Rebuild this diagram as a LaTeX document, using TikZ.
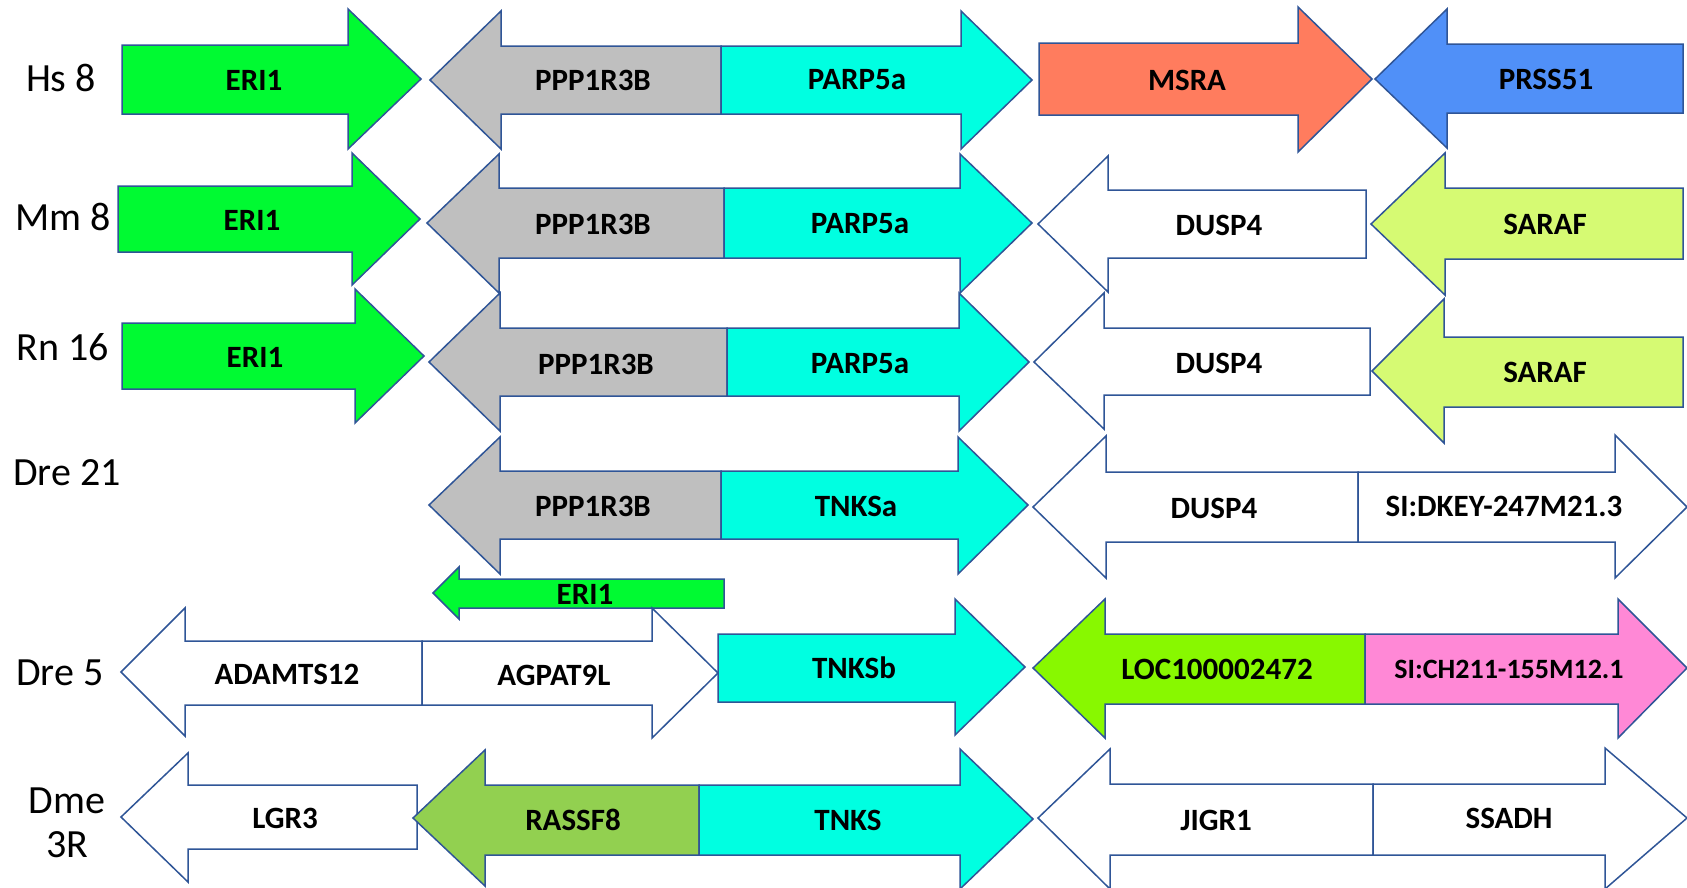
\documentclass[tikz,border=0pt]{standalone}
\usepackage{fontspec}
\setmainfont{Carlito}
\usepackage{tikz}

\definecolor{edgeblue}{RGB}{47,85,151}
\definecolor{eriGreen}{RGB}{0,250,50}
\definecolor{ppGray}{RGB}{191,191,191}
\definecolor{tnksCyan}{RGB}{0,255,225}
\definecolor{msraRed}{RGB}{255,124,94}
\definecolor{prssBlue}{RGB}{80,144,248}
\definecolor{sarafLime}{RGB}{214,250,115}
\definecolor{locGreen}{RGB}{136,248,0}
\definecolor{siPink}{RGB}{255,136,214}
\definecolor{rassGreen}{RGB}{146,208,80}

\begin{document}
\begin{tikzpicture}[x=1pt, y=-1pt,
  gene/.style={draw=edgeblue, line width=1.5pt, line join=miter},
  gname/.style={font=\bfseries\fontsize{31}{31}\selectfont, inner sep=0pt},
  chrom/.style={font=\fontsize{40}{44}\selectfont, inner sep=0pt, align=center}]
\useasboundingbox (0,0) rectangle (1687,887);

% Chromosome labels
\node[chrom] (hs) at (61,78) {Hs 8};
\node[chrom] (mm) at (63,217) {Mm 8};
\node[chrom] (rn) at (63,347) {Rn 16};
\node[chrom] (dreA) at (67,473) {Dre 21};
\node[chrom] (dreB) at (60,673) {Dre 5};
\node[chrom] (dme) at (67,823) {Dme\\3R};

% Hs 8
\draw[gene, fill=eriGreen] (122,45) -- (348,45) -- (348,9) -- (421,79) -- (348,149) -- (348,114) -- (122,114) -- cycle;
\draw[gene, fill=ppGray] (430,80) -- (501,11) -- (501,46) -- (721,46) -- (721,114) -- (501,114) -- (501,149) -- cycle;
\draw[gene, fill=tnksCyan] (721,46) -- (961,46) -- (961,11) -- (1032,80) -- (961,149) -- (961,114) -- (721,114) -- cycle;
\draw[gene, fill=msraRed] (1039,43) -- (1298,43) -- (1298,7) -- (1372,79) -- (1298,152) -- (1298,115) -- (1039,115) -- cycle;
\draw[gene, fill=prssBlue] (1375,79) -- (1447,9) -- (1447,44) -- (1683,44) -- (1683,113) -- (1447,113) -- (1447,148) -- cycle;
\node[gname] (hsERI) at (254,80) {ERI1};
\node[gname] (hsPPP) at (593,80) {PPP1R3B};
\node[gname] (hsPARP) at (857,80) {PARP5a};
\node[gname] (hsMSRA) at (1187,80) {MSRA};
\node[gname] (hsPRSS) at (1546,79) {PRSS51};

% Mm 8
\draw[gene, fill=eriGreen] (118,186) -- (352,186) -- (352,153) -- (420,219) -- (352,285) -- (352,252) -- (118,252) -- cycle;
\draw[gene, fill=ppGray] (427,223) -- (499,154) -- (499,188) -- (724,188) -- (724,258) -- (499,258) -- (499,293) -- cycle;
\draw[gene, fill=tnksCyan] (724,188) -- (960,188) -- (960,154) -- (1032,223) -- (960,293) -- (960,258) -- (724,258) -- cycle;
\draw[gene, fill=white] (1038,224) -- (1108,156) -- (1108,190) -- (1366,190) -- (1366,258) -- (1108,258) -- (1108,292) -- cycle;
\draw[gene, fill=sarafLime] (1371,224) -- (1445,153) -- (1445,188) -- (1683,188) -- (1683,259) -- (1445,259) -- (1445,295) -- cycle;
\node[gname] (mmERI) at (252,220) {ERI1};
\node[gname] (mmPPP) at (593,224) {PPP1R3B};
\node[gname] (mmPARP) at (860,224) {PARP5a};
\node[gname] (mmDUSP) at (1219,225) {DUSP4};
\node[gname] (mmSARAF) at (1545,224) {SARAF};

% Rn 16
\draw[gene, fill=eriGreen] (122,323) -- (355,323) -- (355,289) -- (424,356) -- (355,423) -- (355,389) -- (122,389) -- cycle;
\draw[gene, fill=ppGray] (429,362) -- (500,293) -- (500,328) -- (727,328) -- (727,396) -- (500,396) -- (500,431) -- cycle;
\draw[gene, fill=tnksCyan] (727,328) -- (959,328) -- (959,293) -- (1029,362) -- (959,431) -- (959,396) -- (727,396) -- cycle;
\draw[gene, fill=white] (1034,362) -- (1104,293) -- (1104,328) -- (1370,328) -- (1370,395) -- (1104,395) -- (1104,429) -- cycle;
\draw[gene, fill=sarafLime] (1372,371) -- (1444,299) -- (1444,337) -- (1683,337) -- (1683,407) -- (1444,407) -- (1444,443) -- cycle;
\node[gname] (rnERI) at (255,357) {ERI1};
\node[gname] (rnPPP) at (596,364) {PPP1R3B};
\node[gname] (rnPARP) at (860,364) {PARP5a};
\node[gname] (rnDUSP) at (1219,363) {DUSP4};
\node[gname] (rnSARAF) at (1545,372) {SARAF};

% Dre 21
\draw[gene, fill=ppGray] (429,505) -- (500,437) -- (500,471) -- (721,471) -- (721,539) -- (500,539) -- (500,574) -- cycle;
\draw[gene, fill=tnksCyan] (721,471) -- (958,471) -- (958,437) -- (1028,505) -- (958,574) -- (958,539) -- (721,539) -- cycle;
\draw[gene, fill=white] (1033,507) -- (1106,436) -- (1106,472) -- (1358,472) -- (1358,542) -- (1106,542) -- (1106,578) -- cycle;
\draw[gene, fill=white] (1358,472) -- (1615,472) -- (1615,435) -- (1687,507) -- (1615,578) -- (1615,542) -- (1358,542) -- cycle;
\node[gname] (dreAPPP) at (593,506) {PPP1R3B};
\node[gname] (dreATNKS) at (856,506) {TNKSa};
\node[gname] (dreADUSP) at (1214,508) {DUSP4};
\node[gname] (dreASI) at (1504,506) {SI:DKEY-247M21.3};

% ERI1 between the zebrafish rows
\draw[gene, fill=eriGreen] (433,593) -- (459,567) -- (459,579) -- (724,579) -- (724,608) -- (459,608) -- (459,619) -- cycle;
\node[gname] (dreERI) at (585,594) {ERI1};

% Dre 5
\draw[gene, fill=white] (121,672) -- (185,608) -- (185,641) -- (422,641) -- (422,705) -- (185,705) -- (185,736) -- cycle;
\draw[gene, fill=white] (422,641) -- (652,641) -- (652,608) -- (718,673) -- (652,738) -- (652,705) -- (422,705) -- cycle;
\draw[gene, fill=tnksCyan] (718,634) -- (955,634) -- (955,599) -- (1025,667) -- (955,735) -- (955,702) -- (718,702) -- cycle;
\draw[gene, fill=locGreen] (1033,668) -- (1105,599) -- (1105,634) -- (1365,634) -- (1365,704) -- (1105,704) -- (1105,738) -- cycle;
\draw[gene, fill=siPink] (1365,634) -- (1618,634) -- (1618,599) -- (1687,668) -- (1618,738) -- (1618,704) -- (1365,704) -- cycle;
\node[gname] (dreBADAM) at (287,674) {ADAMTS12};
\node[gname] (dreBAGPAT) at (554,675) {AGPAT9L};
\node[gname] (dreBTNKS) at (854,668) {TNKSb};
\node[gname] (dreBLOC) at (1217,669) {LOC100002472};
\node[gname, font=\bfseries\fontsize{28}{28}\selectfont] (dreBSI) at (1509,669) {SI:CH211-155M12.1};

% Dme 3R
\draw[gene, fill=white] (121,817) -- (188,753) -- (188,785) -- (417,785) -- (417,849) -- (188,849) -- (188,882) -- cycle;
\draw[gene, fill=rassGreen] (413,818) -- (485,750) -- (485,785) -- (699,785) -- (699,855) -- (485,855) -- (485,886) -- cycle;
\draw[gene, fill=tnksCyan] (699,785) -- (960,785) -- (960,749) -- (1033,819) -- (960,889) -- (960,855) -- (699,855) -- cycle;
\draw[gene, fill=white] (1038,818) -- (1110,749) -- (1110,784) -- (1373,784) -- (1373,855) -- (1110,855) -- (1110,889) -- cycle;
\draw[gene, fill=white] (1373,784) -- (1605,784) -- (1605,748) -- (1687,818) -- (1605,889) -- (1605,855) -- (1373,855) -- cycle;
\node[gname] (dmeLGR) at (285,818) {LGR3};
\node[gname] (dmeRASS) at (573,820) {RASSF8};
\node[gname] (dmeTNKS) at (848,820) {TNKS};
\node[gname] (dmeJIGR) at (1216,820) {JIGR1};
\node[gname] (dmeSSADH) at (1509,818) {SSADH};

\end{tikzpicture}
\end{document}
